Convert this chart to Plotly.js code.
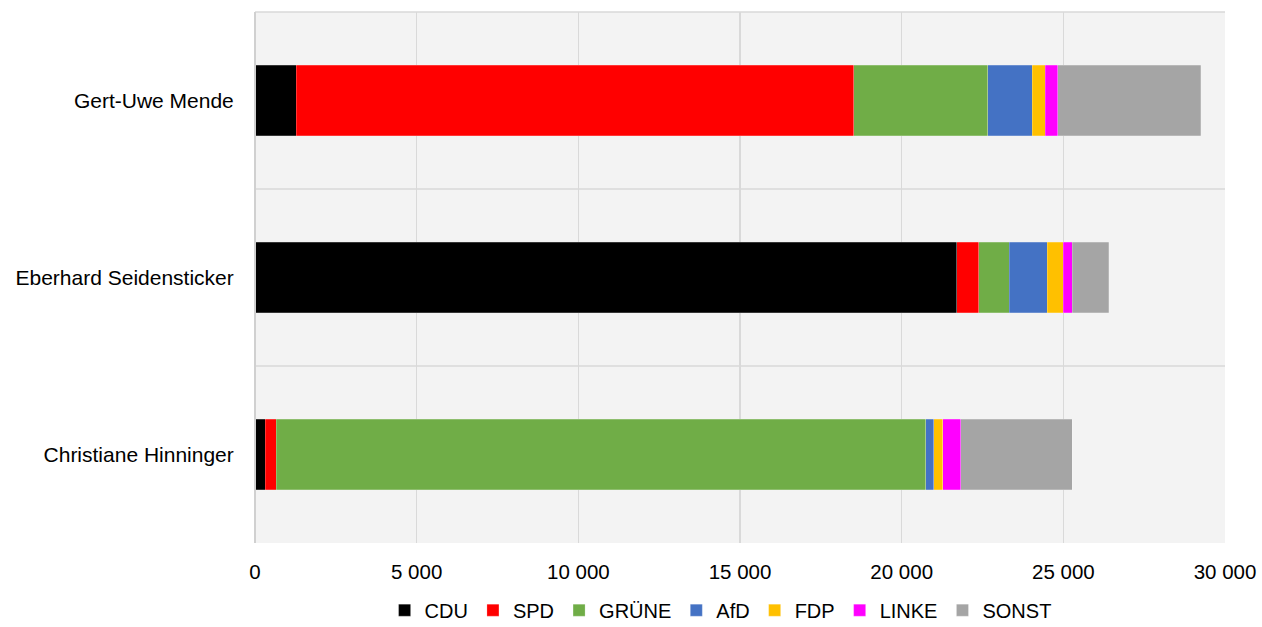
<!DOCTYPE html>
<html>
<head>
<meta charset="utf-8">
<script src="https://cdn.plot.ly/plotly-3.0.1.min.js"></script>
<style>html,body{margin:0;padding:0;background:#fff;}#chart{width:1262px;height:627px;}</style>
</head>
<body>
<div id="chart"></div>
<script>
const candidates = ["Gert-Uwe Mende", "Eberhard Seidensticker", "Christiane Hinninger"];
const parties = ["CDU", "SPD", "GRÜNE", "AfD", "FDP", "LINKE", "SONST"];
const CDU   = [1270, 21710, 310];
const SPD   = [17250, 670, 340];
const GRUENE = [4140, 950, 20100];
const AfD   = [1380, 1180, 240];
const FDP   = [400, 490, 280];
const LINKE = [380, 280, 550];
const SONST = [4430, 1120, 3460];
const xTicks = [0, 5000, 10000, 15000, 20000, 25000, 30000];

const seriesValues = [CDU, SPD, GRUENE, AfD, FDP, LINKE, SONST];
const colors = ["#000000", "#ff0000", "#70ad47", "#4472c4", "#ffc000", "#ff00ff", "#a5a5a5"];

const traces = parties.map((p, i) => ({
  type: "bar",
  orientation: "h",
  name: p,
  y: candidates,
  x: seriesValues[i],
  marker: { color: colors[i], line: { color: "rgba(255,255,255,0.35)", width: 0.6 } },
  hoverinfo: "x+name"
}));

const layout = {
  width: 1262, height: 627,
  barmode: "stack",
  bargap: 0.6,
  separators: ", ",
  font: { family: "Liberation Sans, Arial, sans-serif", size: 21, color: "#000" },
  paper_bgcolor: "#ffffff",
  plot_bgcolor: "#f3f3f3",
  margin: { l: 255, r: 37, t: 12, b: 84, autoexpand: false },
  xaxis: {
    range: [0, 30000],
    tickvals: xTicks,
    tickformat: ",d",
    showgrid: true, gridcolor: "#d9d9d9", gridwidth: 1.3,
    zeroline: false,
    showline: false,
    ticks: "outside", ticklen: 10, tickcolor: "rgba(0,0,0,0)",
    tickfont: { size: 20.5 },
    automargin: false,
    fixedrange: true
  },
  yaxis: {
    type: "category",
    categoryorder: "array",
    categoryarray: candidates,
    autorange: "reversed",
    showgrid: false,
    zeroline: false,
    ticks: "outside", ticklen: 16, tickcolor: "rgba(0,0,0,0)",
    tickfont: { size: 21 },
    automargin: false,
    fixedrange: true
  },
  shapes: [
    { type: "line", xref: "paper", yref: "paper", x0: 0, x1: 1, y0: 1, y1: 1, line: { color: "#d9d9d9", width: 1.3 } },
    { type: "line", xref: "paper", yref: "paper", x0: 0, x1: 1, y0: 1/3, y1: 1/3, line: { color: "#d9d9d9", width: 1.3 } },
    { type: "line", xref: "paper", yref: "paper", x0: 0, x1: 1, y0: 2/3, y1: 2/3, line: { color: "#d9d9d9", width: 1.3 } },
    { type: "line", xref: "paper", yref: "paper", x0: 0, x1: 0, y0: 0, y1: 1, line: { color: "#d0d0d0", width: 2 }, layer: "above" }
  ],
  legend: {
    orientation: "h",
    x: 0.48, xanchor: "center",
    yref: "container",
    y: 0.058, yanchor: "top",
    font: { size: 20 },
    itemwidth: 30,
    tracegroupgap: 0,
    traceorder: "normal"
  },
  showlegend: true
};

Plotly.newPlot("chart", traces, layout, { displayModeBar: false, staticPlot: true });
</script>
</body>
</html>
